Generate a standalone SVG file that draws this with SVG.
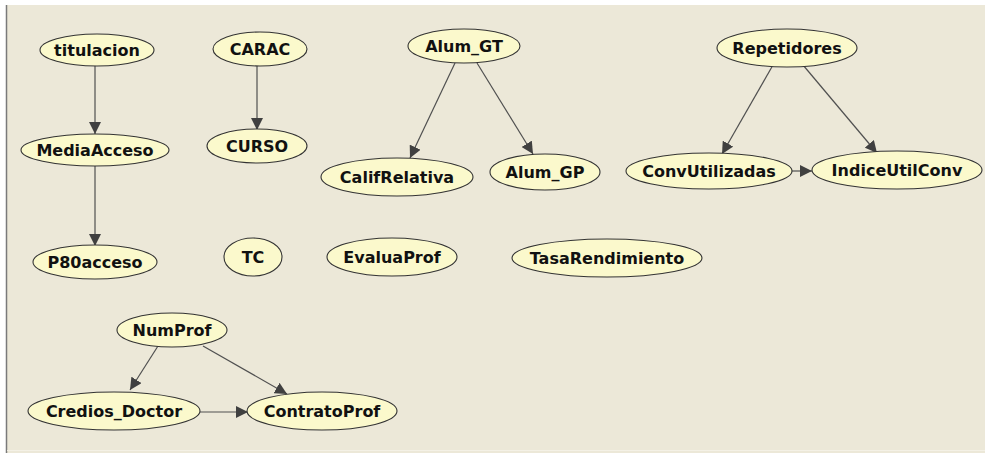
<svg xmlns="http://www.w3.org/2000/svg" width="985" height="453" viewBox="0 0 985 453">
  <style>
    .node ellipse { fill: #fbf9cc; stroke: #333333; stroke-width: 1.1; }
    .node text { font-family: "DejaVu Sans", "Verdana", sans-serif; font-weight: bold; font-size: 16px; fill: #111; text-anchor: middle; }
    .edge { stroke: #505050; stroke-width: 1.2; fill: none; marker-end: url(#arrow); }
  </style>
  <defs>
    <marker id="arrow" markerUnits="userSpaceOnUse" markerWidth="12" markerHeight="12" refX="12" refY="6" orient="auto">
      <path d="M0,0 L12,6 L0,12 Z" fill="#404040"/>
    </marker>
  </defs>

  <!-- canvas -->
  <rect x="0" y="0" width="985" height="453" fill="#ffffff"/>
  <rect x="6" y="5" width="979" height="448" fill="#ece8d8"/>
  <line x1="6.5" y1="5" x2="6.5" y2="453" stroke="#7a7a7a" stroke-width="1.5"/>
  <line x1="7" y1="450.5" x2="985" y2="450.5" stroke="#f4f1e6" stroke-width="1"/>

  <!-- connectors -->
  <g id="connectors">
    <line class="edge" x1="95" y1="66" x2="95" y2="134"/>
    <line class="edge" x1="257" y1="65" x2="257" y2="130"/>
    <line class="edge" x1="95" y1="166" x2="95" y2="246"/>
    <line class="edge" x1="455" y1="63" x2="410" y2="158"/>
    <line class="edge" x1="477" y1="63" x2="533" y2="154"/>
    <line class="edge" x1="773" y1="65" x2="722" y2="154"/>
    <line class="edge" x1="803" y1="65" x2="877" y2="153"/>
    <line class="edge" x1="792" y1="171" x2="812" y2="171"/>
    <line class="edge" x1="158" y1="346" x2="130" y2="390"/>
    <line class="edge" x1="203" y1="346" x2="287" y2="394"/>
    <line class="edge" x1="200" y1="412" x2="248" y2="412"/>
  </g>

  <!-- nodes -->
  <g id="titulacion" class="node"><ellipse cx="97" cy="50" rx="57" ry="16"/><text x="97" y="56">titulacion</text></g>
  <g id="MediaAcceso" class="node"><ellipse cx="95" cy="150" rx="74" ry="16"/><text x="95" y="156">MediaAcceso</text></g>
  <g id="P80acceso" class="node"><ellipse cx="95" cy="262" rx="62" ry="17"/><text x="95" y="268">P80acceso</text></g>
  <g id="CARAC" class="node"><ellipse cx="260" cy="49" rx="47" ry="17"/><text x="260" y="55">CARAC</text></g>
  <g id="CURSO" class="node"><ellipse cx="257" cy="146" rx="50" ry="17"/><text x="257" y="152">CURSO</text></g>
  <g id="TC" class="node"><ellipse cx="253" cy="257" rx="29" ry="19"/><text x="253" y="263">TC</text></g>
  <g id="Alum_GT" class="node"><ellipse cx="464" cy="46" rx="56" ry="17"/><text x="464" y="52">Alum_GT</text></g>
  <g id="CalifRelativa" class="node"><ellipse cx="397" cy="177" rx="76" ry="19"/><text x="397" y="183">CalifRelativa</text></g>
  <g id="Alum_GP" class="node"><ellipse cx="545" cy="172" rx="55" ry="18"/><text x="545" y="178">Alum_GP</text></g>
  <g id="EvaluaProf" class="node"><ellipse cx="392" cy="257" rx="65" ry="19"/><text x="392" y="263">EvaluaProf</text></g>
  <g id="TasaRendimiento" class="node"><ellipse cx="607" cy="258" rx="95" ry="19"/><text x="607" y="264">TasaRendimiento</text></g>
  <g id="Repetidores" class="node"><ellipse cx="787" cy="48" rx="70" ry="19"/><text x="787" y="54">Repetidores</text></g>
  <g id="ConvUtilizadas" class="node"><ellipse cx="709" cy="171" rx="83" ry="18"/><text x="709" y="177">ConvUtilizadas</text></g>
  <g id="IndiceUtilConv" class="node"><ellipse cx="897" cy="170" rx="85" ry="19"/><text x="897" y="176">IndiceUtilConv</text></g>
  <g id="NumProf" class="node"><ellipse cx="172" cy="330" rx="55" ry="17"/><text x="172" y="336">NumProf</text></g>
  <g id="Credios_Doctor" class="node"><ellipse cx="114" cy="411" rx="86" ry="19"/><text x="114" y="417">Credios_Doctor</text></g>
  <g id="ContratoProf" class="node"><ellipse cx="322" cy="411" rx="75" ry="19"/><text x="322" y="417">ContratoProf</text></g>
</svg>
